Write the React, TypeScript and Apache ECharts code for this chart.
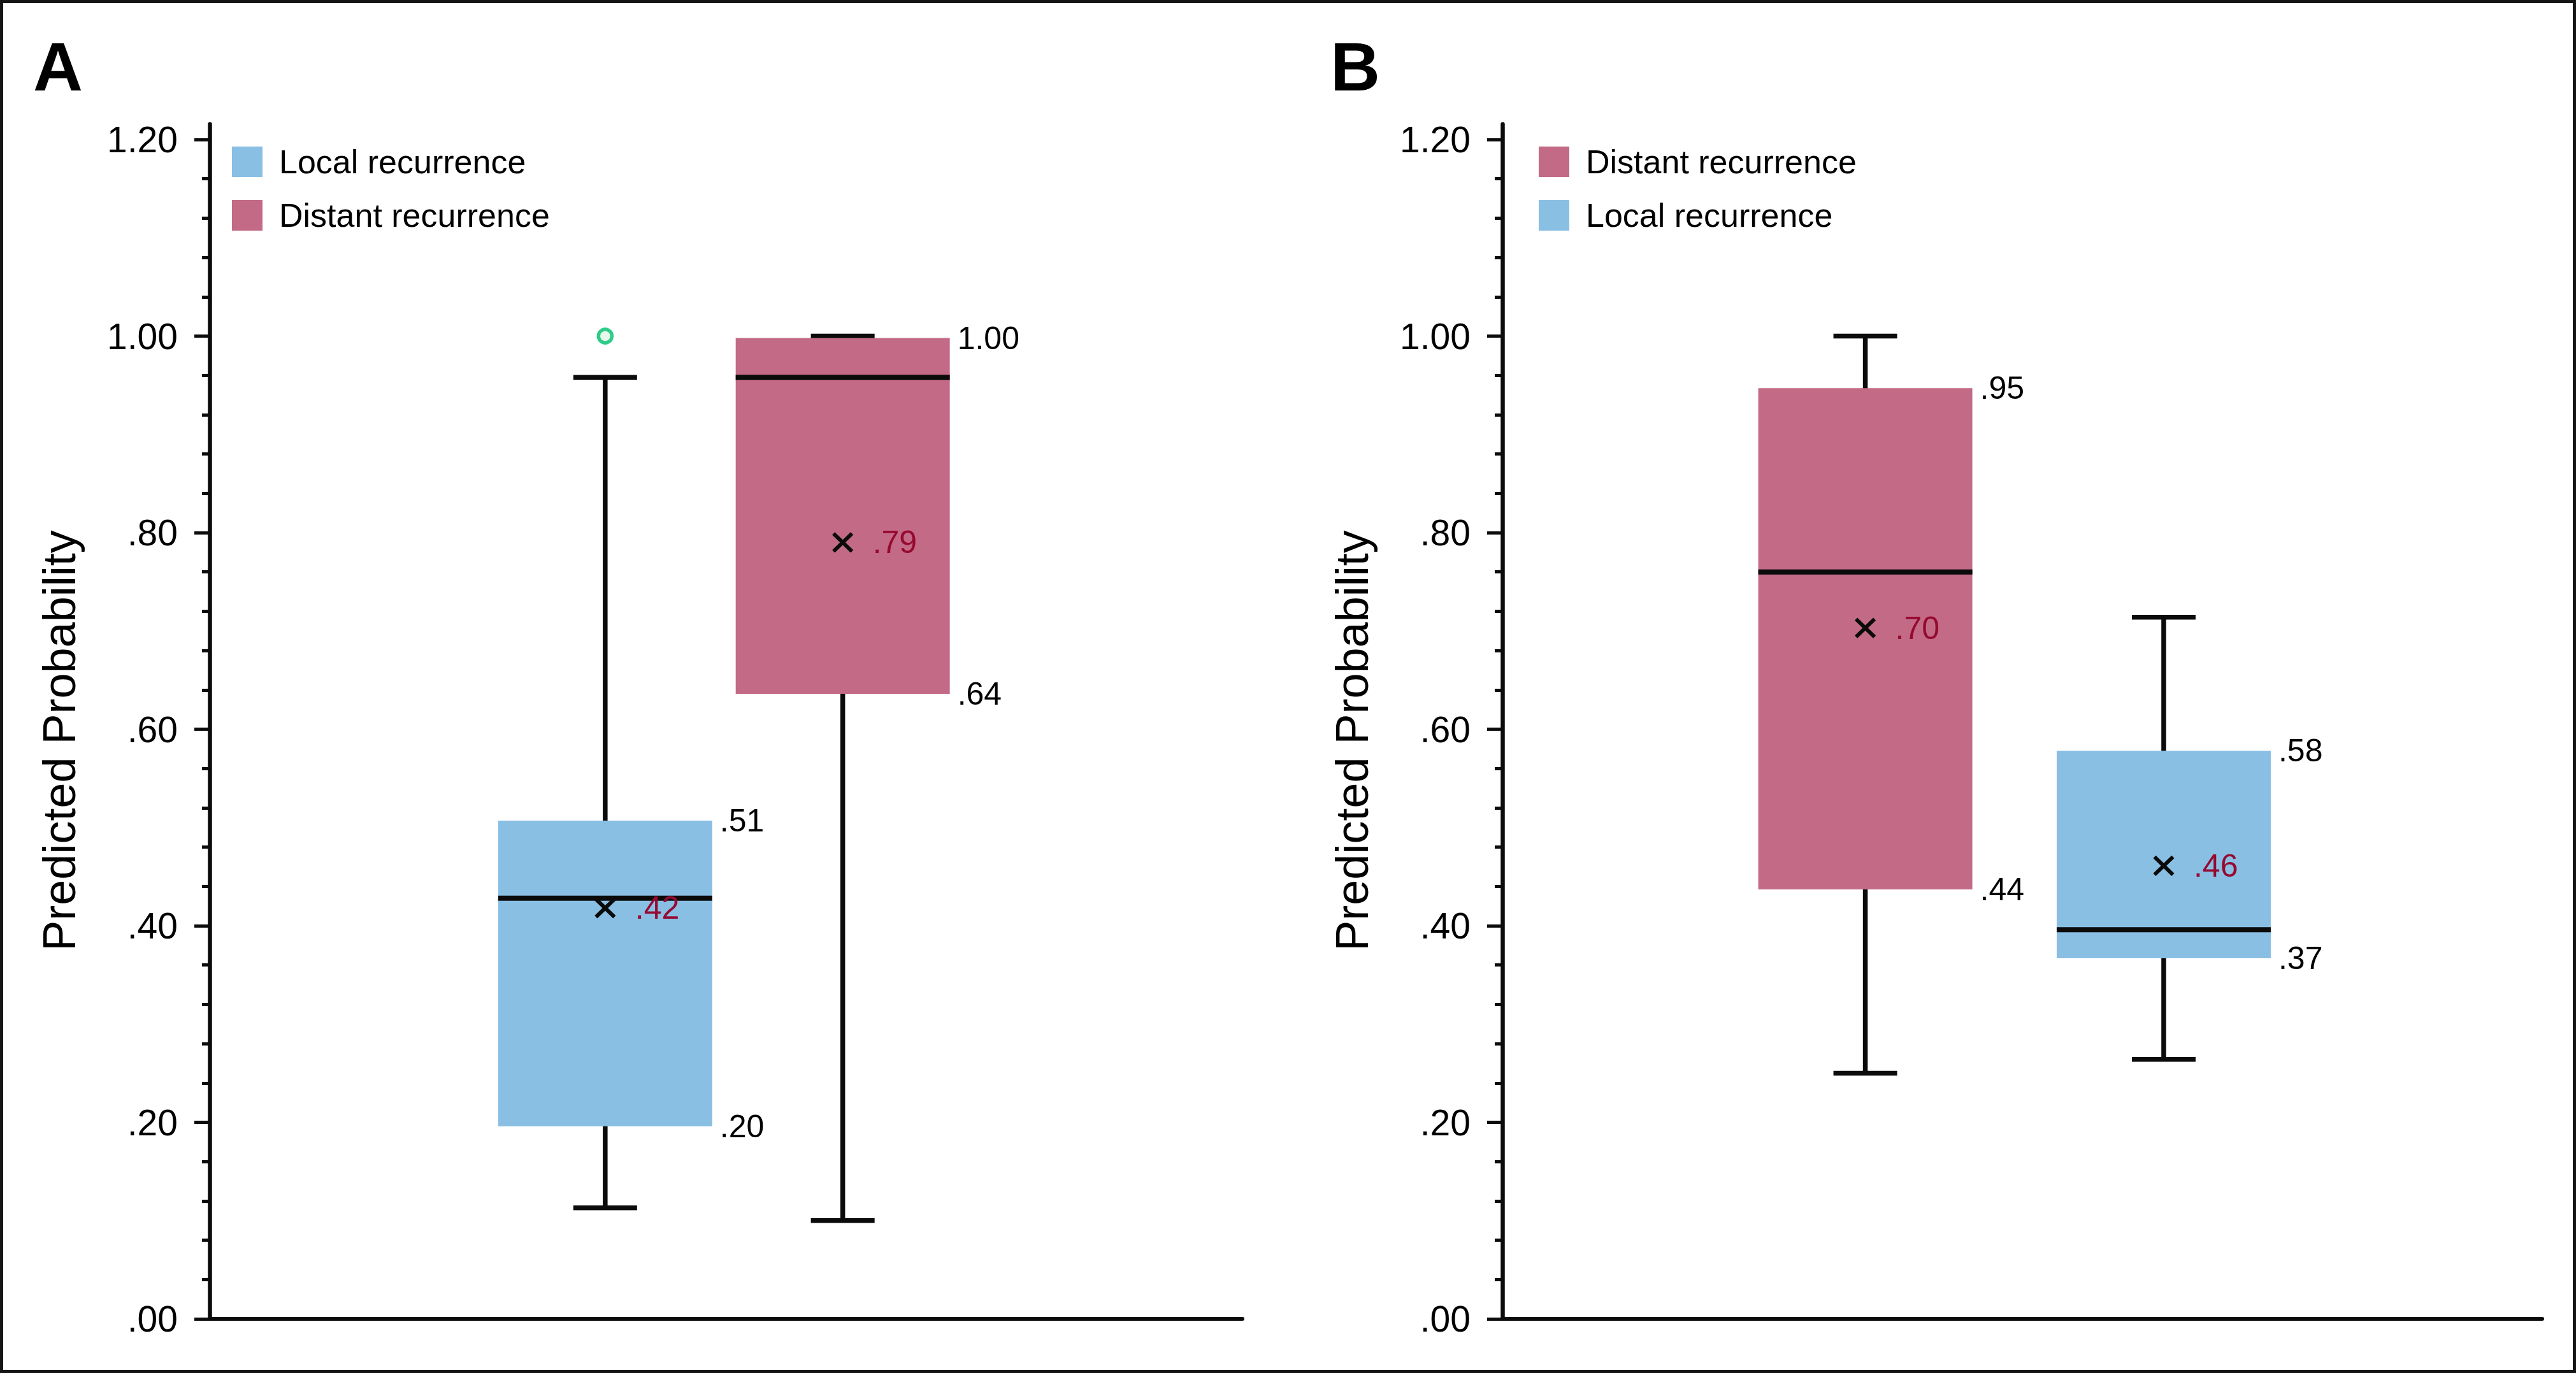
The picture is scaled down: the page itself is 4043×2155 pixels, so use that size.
import React, { useEffect, useRef } from "react";
import * as echarts from "echarts";

// ---------- data ----------
// Panel A (left)
const groupsA = ["Local recurrence", "Distant recurrence"];
const minA = [0.113, 0.1];
const q1A = [0.196, 0.636];
const medianA = [0.428, 0.958];
const q3A = [0.507, 0.998];
const maxA = [0.958, 1.0];
const meanA = [0.418, 0.79];
const outliersA = [[1.0], []];

// Panel B (right)
const groupsB = ["Distant recurrence", "Local recurrence"];
const minB = [0.25, 0.264];
const q1B = [0.437, 0.367];
const medianB = [0.76, 0.396];
const q3B = [0.947, 0.578];
const maxB = [1.0, 0.714];
const meanB = [0.703, 0.461];
const outliersB = [[], []];

const yMin = 0;
const yMax = 1.2;
const yStep = 0.2;
const panelLetters = ["A", "B"];
const yAxisTitle = "Predicted Probability";

// ---------- style / layout ----------
const W = 4043;
const H = 2155;
const COLORS: Record<string, string> = {
  "Local recurrence": "#8abfe4",
  "Distant recurrence": "#c36a86",
};
const BLACK = "#0a0b0a";
const MEAN_COLOR = "#960a30";
const FONT = "'Liberation Sans', Arial, Helvetica, sans-serif";
const NARROW = "'Liberation Sans Narrow', 'Liberation Sans', Arial, sans-serif";
const PLOT_TOP = 219;
const PLOT_BOTTOM = 2070;
const AXIS_TOP = 195;
const BOX_PX = 336;
const CAP_PX = 100;
const PANELS = [
  { left: 329, width: 1621, boxX: [0.383, 0.613], legendLeft: 364, letterLeft: 52 },
  { left: 2358, width: 1632, boxX: [0.349, 0.636], legendLeft: 2415, letterLeft: 2088 },
];

const fmt = (v: number) => v.toFixed(2).replace(/^0(?=\.)/, "");

function makeRenderItem(outliers: number[]) {
  return (params: any, api: any) => {
    const x = api.value(0);
    const vMin = api.value(1);
    const vQ1 = api.value(2);
    const vMed = api.value(3);
    const vQ3 = api.value(4);
    const vMax = api.value(5);
    const vMean = api.value(6);
    const color = api.visual("color");
    const pMin = api.coord([x, vMin]);
    const pQ1 = api.coord([x, vQ1]);
    const pMed = api.coord([x, vMed]);
    const pQ3 = api.coord([x, vQ3]);
    const pMax = api.coord([x, vMax]);
    const pMean = api.coord([x, vMean]);
    const cx = pMed[0];
    const hb = BOX_PX / 2;
    const hc = CAP_PX / 2;
    const line = (x1: number, y1: number, x2: number, y2: number, w: number) => ({
      type: "line",
      shape: { x1, y1, x2, y2 },
      style: { stroke: BLACK, lineWidth: w },
    });
    const label = (tx: number, ty: number, text: string, fill: string) => ({
      type: "text",
      style: {
        x: tx,
        y: ty,
        text,
        fill,
        fontSize: 50,
        fontFamily: FONT,
        align: "left",
        verticalAlign: "middle",
      },
    });
    const children: any[] = [
      line(cx, pMin[1], cx, pMax[1], 7.5),
      line(cx - hc, pMin[1], cx + hc, pMin[1], 7.5),
      line(cx - hc, pMax[1], cx + hc, pMax[1], 7.5),
      {
        type: "rect",
        shape: { x: cx - hb, y: pQ3[1], width: BOX_PX, height: pQ1[1] - pQ3[1] },
        style: { fill: color },
      },
      line(cx - hb, pMed[1], cx + hb, pMed[1], 8),
      line(cx - 14.5, pMean[1] - 14, cx + 14.5, pMean[1] + 14, 6),
      line(cx - 14.5, pMean[1] + 14, cx + 14.5, pMean[1] - 14, 6),
      label(cx + 47, pMean[1], fmt(vMean), MEAN_COLOR),
      label(cx + hb + 12, pQ3[1], fmt(vQ3), "#000"),
      label(cx + hb + 12, pQ1[1], fmt(vQ1), "#000"),
    ];
    outliers.forEach((o) => {
      const p = api.coord([x, o]);
      children.push({
        type: "circle",
        shape: { cx: p[0], cy: p[1], r: 10.5 },
        style: { fill: "#e6f7ec", stroke: "#2ecc87", lineWidth: 5.5 },
      });
    });
    return { type: "group", children };
  };
}

function buildOption() {
  const panelData = [
    { groups: groupsA, min: minA, q1: q1A, med: medianA, q3: q3A, max: maxA, mean: meanA, out: outliersA },
    { groups: groupsB, min: minB, q1: q1B, med: medianB, q3: q3B, max: maxB, mean: meanB, out: outliersB },
  ];
  const grid: any[] = [];
  const xAxis: any[] = [];
  const yAxis: any[] = [];
  const series: any[] = [];
  const legend: any[] = [];
  const title: any[] = [];

  PANELS.forEach((P, pi) => {
    const D = panelData[pi];
    const gMain = grid.length;
    grid.push({ left: P.left, top: PLOT_TOP, width: P.width, height: PLOT_BOTTOM - PLOT_TOP });
    const gFrame = grid.length;
    grid.push({ left: P.left, top: AXIS_TOP, width: P.width, height: PLOT_BOTTOM - AXIS_TOP });

    xAxis.push({
      gridIndex: gMain,
      type: "value",
      min: 0,
      max: 1,
      axisLine: { show: true, onZero: false, lineStyle: { color: BLACK, width: 6 } },
      axisTick: { show: false },
      axisLabel: { show: false },
      splitLine: { show: false },
    });
    xAxis.push({ gridIndex: gFrame, type: "value", min: 0, max: 1, show: false });

    yAxis.push({
      gridIndex: gMain,
      type: "value",
      min: yMin,
      max: yMax,
      interval: yStep,
      axisLine: { show: false },
      axisTick: { show: true, length: 24, lineStyle: { color: BLACK, width: 5 } },
      minorTick: { show: true, splitNumber: 5, length: 12, lineStyle: { color: BLACK, width: 5 } },
      splitLine: { show: false },
      minorSplitLine: { show: false },
      axisLabel: {
        margin: 50,
        fontSize: 57,
        fontFamily: FONT,
        color: "#000",
        formatter: (v: number) => fmt(v),
      },
      name: yAxisTitle,
      nameLocation: "middle",
      nameRotate: 90,
      nameGap: 200,
      nameTextStyle: { fontSize: 72, fontFamily: FONT, color: "#000", padding: [0, 36, 0, 0] },
    });
    yAxis.push({
      gridIndex: gFrame,
      type: "value",
      min: 0,
      max: 1,
      axisLine: { show: true, lineStyle: { color: BLACK, width: 6.5 } },
      axisTick: { show: false },
      axisLabel: { show: false },
      splitLine: { show: false },
    });

    D.groups.forEach((g, i) => {
      series.push({
        type: "custom",
        name: g,
        xAxisIndex: gMain,
        yAxisIndex: gMain,
        itemStyle: { color: COLORS[g] },
        encode: { x: 0, y: [1, 2, 3, 4, 5, 6] },
        renderItem: makeRenderItem(D.out[i]),
        clip: false,
        data: [[P.boxX[i], D.min[i], D.q1[i], D.med[i], D.q3[i], D.max[i], D.mean[i]]],
      });
    });

    legend.push({
      left: P.legendLeft,
      top: 228,
      orient: "vertical",
      data: D.groups,
      icon: "rect",
      itemWidth: 48,
      itemHeight: 48,
      itemGap: 32,
      selectedMode: false,
      padding: 0,
      textStyle: { fontSize: 52, fontFamily: FONT, color: "#000", padding: [0, 0, 0, 21] },
    });

    title.push({
      text: panelLetters[pi],
      left: P.letterLeft,
      top: 50,
      padding: 0,
      textStyle: { fontSize: 108, fontWeight: "bold", fontFamily: NARROW, color: "#000" },
    });
  });

  return {
    animation: false,
    backgroundColor: "#fff",
    title,
    legend,
    grid,
    xAxis,
    yAxis,
    series,
    graphic: [
      {
        type: "rect",
        shape: { x: 2.5, y: 2.5, width: W - 5, height: H - 5 },
        style: { fill: "none", stroke: "#151515", lineWidth: 5 },
        silent: true,
      },
    ],
  };
}

export default function App() {
  const ref = useRef<HTMLDivElement>(null);
  useEffect(() => {
    if (!ref.current) return;
    const chart = echarts.init(ref.current, undefined, { renderer: "svg", width: W, height: H });
    chart.setOption(buildOption() as any);
    return () => chart.dispose();
  }, []);
  return (
    <div
      ref={ref}
      style={{ position: "absolute", left: 0, top: 0, width: W, height: H, background: "#fff" }}
    />
  );
}
